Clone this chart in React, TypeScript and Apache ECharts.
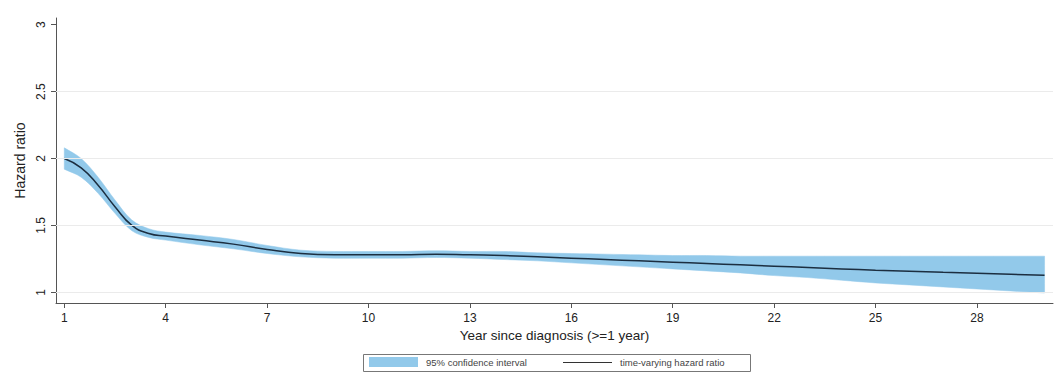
import React, { useEffect, useRef } from "react";
import * as echarts from "echarts";

const years = [1, 1.5, 2, 2.5, 3, 3.5, 4, 5, 6, 7, 8, 9, 10, 11, 12, 13, 14, 15, 16, 17, 18, 19, 20, 21, 22, 23, 24, 25, 26, 27, 28, 29, 30];
const hazardRatio = [2.0, 1.93, 1.8, 1.64, 1.5, 1.44, 1.42, 1.39, 1.36, 1.32, 1.29, 1.28, 1.28, 1.28, 1.285, 1.28, 1.275, 1.265, 1.255, 1.245, 1.235, 1.225, 1.215, 1.205, 1.195, 1.185, 1.175, 1.165, 1.158, 1.15, 1.143, 1.135, 1.127];
const ciLower = [1.92, 1.86, 1.74, 1.59, 1.46, 1.41, 1.39, 1.355, 1.325, 1.29, 1.265, 1.255, 1.255, 1.255, 1.26, 1.255, 1.245, 1.235, 1.22, 1.205, 1.19, 1.175, 1.16, 1.145, 1.125, 1.11, 1.09, 1.07, 1.055, 1.04, 1.025, 1.01, 0.995];
const ciUpper = [2.08, 2.0, 1.86, 1.69, 1.54, 1.475, 1.45, 1.425, 1.395, 1.35, 1.315, 1.305, 1.305, 1.305, 1.31, 1.305, 1.305, 1.295, 1.29, 1.285, 1.28, 1.275, 1.275, 1.27, 1.27, 1.27, 1.27, 1.27, 1.27, 1.27, 1.27, 1.27, 1.27];
const xTicks = [1, 4, 7, 10, 13, 16, 19, 22, 25, 28];
const yTicks = [1, 1.5, 2, 2.5, 3];
const gridValues = [1, 1.5, 2, 2.5];

const FONT = "Liberation Sans, Arial, sans-serif";
const BAND = "#92c9ea";

export default function App() {
  const ref = useRef<HTMLDivElement>(null);
  useEffect(() => {
    if (!ref.current) return;
    const chart = echarts.init(ref.current, undefined, { renderer: "svg" });
    const hrData = years.map((x, i) => [x, hazardRatio[i]]);
    chart.setOption({
      animation: false,
      backgroundColor: "#ffffff",
      grid: { left: 56, right: 4, top: 18, bottom: 84 },
      xAxis: {
        type: "value",
        min: 0.755,
        max: 30.25,
        name: "Year since diagnosis (>=1 year)",
        nameLocation: "middle",
        nameGap: 22,
        nameTextStyle: { fontFamily: FONT, fontSize: 13.5, color: "#222" },
        axisLine: { lineStyle: { color: "#555", width: 1 } },
        axisTick: { customValues: xTicks, length: 5, lineStyle: { color: "#555" } },
        axisLabel: { customValues: xTicks, margin: 9, fontFamily: FONT, fontSize: 12, color: "#222" },
        splitLine: { show: false },
      },
      yAxis: {
        type: "value",
        min: 0.92,
        max: 3.05,
        name: "Hazard ratio",
        nameLocation: "middle",
        nameGap: 26,
        nameTextStyle: { fontFamily: FONT, fontSize: 14, color: "#222" },
        axisLine: { show: true, lineStyle: { color: "#555", width: 1 } },
        axisTick: { show: true, customValues: yTicks, length: 5, lineStyle: { color: "#555" } },
        axisLabel: { customValues: yTicks, rotate: 90, margin: 9, fontFamily: FONT, fontSize: 12, color: "#222" },
        splitLine: { show: false },
      },
      series: [
        {
          type: "line",
          name: "grid",
          data: [],
          z: 1,
          silent: true,
          markLine: {
            silent: true,
            symbol: "none",
            label: { show: false },
            lineStyle: { color: "#ebebeb", width: 1, type: "solid" },
            data: gridValues.map((v) => ({ yAxis: v })),
          },
        },
        {
          type: "custom",
          name: "95% confidence interval",
          z: 3,
          silent: true,
          data: [[years[0], ciLower[0]]],
          renderItem: (params: any, api: any) => {
            const upper = years.map((x, i) => api.coord([x, ciUpper[i]]));
            const lower = years.map((x, i) => api.coord([x, ciLower[i]])).reverse();
            // duplicate end points so the smoothed outline keeps sharp vertical ends
            const pts = [upper[0], ...upper, upper[upper.length - 1], lower[0], ...lower, lower[lower.length - 1]];
            return {
              type: "polygon",
              shape: { points: pts, smooth: 0.35 },
              style: { fill: BAND, stroke: BAND, lineWidth: 0.5 },
            };
          },
        },
        {
          type: "line",
          name: "time-varying hazard ratio",
          data: hrData,
          smooth: true,
          symbol: "none",
          z: 4,
          lineStyle: { color: "#1c2e40", width: 1.5 },
          silent: true,
        },
      ],
      graphic: [
        { type: "rect", shape: { x: 363.5, y: 354.5, width: 387, height: 17 }, style: { fill: "#fff", stroke: "#777", lineWidth: 1 } },
        { type: "rect", shape: { x: 369, y: 357, width: 49, height: 10 }, style: { fill: BAND } },
        { type: "text", x: 426, y: 362.5, style: { text: "95% confidence interval", font: "9.5px " + FONT, fill: "#444", verticalAlign: "middle" } },
        { type: "line", shape: { x1: 563, y1: 362.5, x2: 612, y2: 362.5 }, style: { stroke: "#333", lineWidth: 1 } },
        { type: "text", x: 620, y: 362.5, style: { text: "time-varying hazard ratio", font: "9.5px " + FONT, fill: "#444", verticalAlign: "middle" } },
      ],
    });
    return () => chart.dispose();
  }, []);
  return <div ref={ref} style={{ position: "fixed", left: 0, top: 0, width: 1057, height: 387 }} />;
}
